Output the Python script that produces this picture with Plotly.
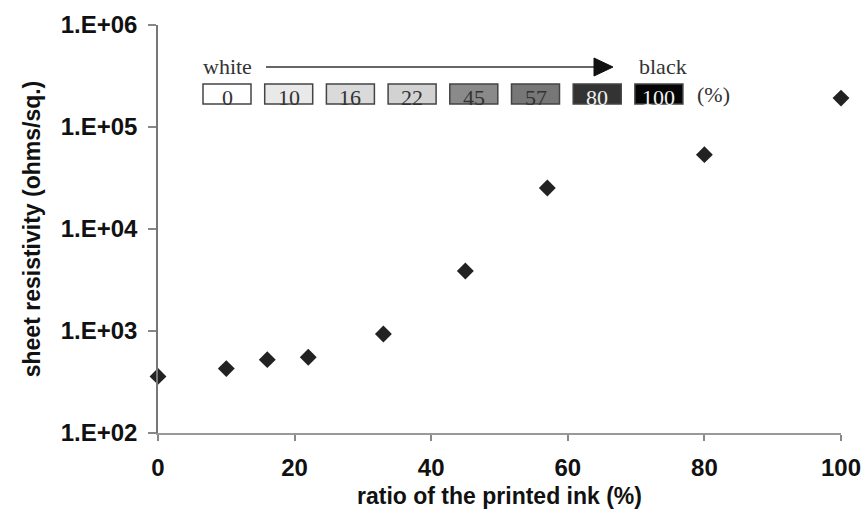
import plotly.graph_objects as go

# Sheet resistivity vs. printed ink ratio
ink_ratio = [0, 10, 16, 22, 33, 45, 57, 80, 100]
resistivity = [359, 428, 524, 552, 935, 3870, 25200, 53600, 192000]

# Grey-level swatches shown above the data
swatch_levels = ["0", "10", "16", "22", "45", "57", "80", "100"]
swatch_fills = ["#ffffff", "#e9e9e9", "#dadada", "#d2d2d2", "#8a8a8a", "#777777", "#333333", "#050505"]
swatch_text = ["#333333", "#333333", "#333333", "#333333", "#333333", "#333333", "#f0f0f0", "#f0f0f0"]

y_ticks = [1e2, 1e3, 1e4, 1e5, 1e6]
y_tick_text = ["1.E+02", "1.E+03", "1.E+04", "1.E+05", "1.E+06"]
x_ticks = [0, 20, 40, 60, 80, 100]

W, H = 862, 511
L, R, T, B = 158, 21, 25, 78


def px(x):
    return (x - L) / (W - L - R)


def py(y):
    return (H - B - y) / (H - T - B)


fig = go.Figure()
fig.add_trace(go.Scatter(
    x=ink_ratio, y=resistivity, mode="markers",
    marker=dict(symbol="diamond", size=13, color="#222222"),
    showlegend=False, cliponaxis=False,
))

axis_font = dict(family="Liberation Sans", size=24, color="#111111", weight="bold")
title_font = dict(family="Liberation Sans", size=23, color="#111111", weight="bold")

fig.update_xaxes(
    range=[0, 100], tickvals=x_ticks, ticks="outside", ticklen=6, tickwidth=1.5,
    tickcolor="#888888", showline=True, linecolor="#999999", linewidth=2,
    showgrid=False, zeroline=False, tickfont=axis_font, ticklabelstandoff=6,
    automargin=False,
    title=dict(text="ratio of the printed ink (%)", font=title_font, standoff=8),
)
fig.update_yaxes(
    type="log", range=[2, 6], tickvals=y_ticks, ticktext=y_tick_text,
    ticks="outside", ticklen=8, tickwidth=1.5, tickcolor="#888888",
    showline=True, linecolor="#777777", linewidth=1.5, showgrid=False,
    zeroline=False, tickfont=axis_font, ticklabelstandoff=6, automargin=False,
    title=dict(text="sheet resistivity (ohms/sq.)", font=title_font, standoff=14),
)

shapes = []
annotations = []
serif = "Liberation Serif"


def label(x, y, text, size, color):
    annotations.append(dict(x=px(x), y=py(y), xref="paper", yref="paper", text=text,
                            xanchor="center", yanchor="middle", showarrow=False,
                            font=dict(family=serif, size=size, color=color)))


# "white ---> black" arrow
label(227, 67, "white", 22, "#333333")
label(663, 67, "black", 22, "#333333")
shapes.append(dict(type="line", xref="paper", yref="paper", x0=px(266), x1=px(598),
                   y0=py(67), y1=py(67), line=dict(color="#333333", width=1.5)))
shapes.append(dict(type="path", xref="paper", yref="paper",
                   path=f"M {px(594)} {py(58)} L {px(613)} {py(67)} L {px(594)} {py(76)} Z",
                   fillcolor="#111111", line=dict(color="#111111", width=1)))

# Swatch row
box_w, step, x_start = 48, 61.7, 203
for i, (lvl, fill, tc) in enumerate(zip(swatch_levels, swatch_fills, swatch_text)):
    x0 = x_start + i * step
    shapes.append(dict(type="rect", xref="paper", yref="paper",
                       x0=px(x0), x1=px(x0 + box_w), y0=py(104), y1=py(84),
                       fillcolor=fill, line=dict(color="#444444", width=1.5)))
    label(x0 + box_w / 2, 97, lvl, 22, tc)
label(713, 95, "(%)", 22, "#333333")

fig.update_layout(
    width=W, height=H, margin=dict(l=L, r=R, t=T, b=B),
    paper_bgcolor="white", plot_bgcolor="white",
    shapes=shapes, annotations=annotations,
)

fig.write_html("out.html")
